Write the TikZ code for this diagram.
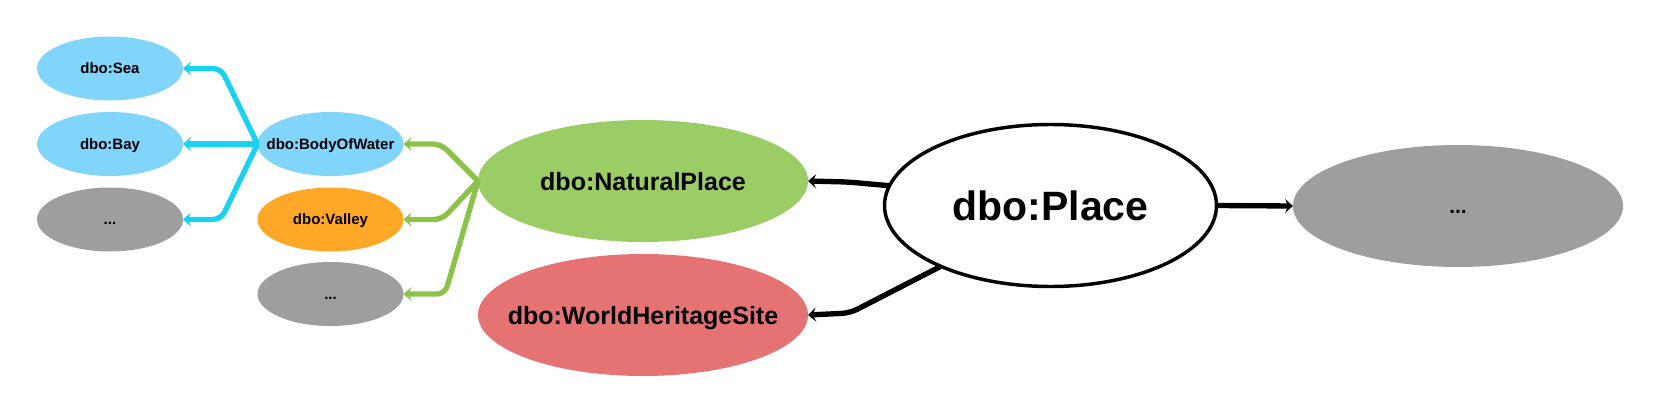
\documentclass[tikz,border=0pt]{standalone}
\usepackage{fontspec}
\setmainfont{Liberation Sans}
\usetikzlibrary{arrows.meta,shapes.geometric}
\definecolor{lblue}{HTML}{81D4FA}
\definecolor{cyanline}{HTML}{18D2F0}
\definecolor{orangefill}{HTML}{FFA726}
\definecolor{grayfill}{HTML}{9E9E9E}
\definecolor{greenfill}{HTML}{9CCC65}
\definecolor{greenline}{HTML}{8BC34A}
\definecolor{redfill}{HTML}{E57373}
\newcommand{\lbl}[1]{\makebox[0pt][c]{#1}}
\begin{document}
\begin{tikzpicture}[x=0.75pt,y=-0.75pt,
  ell/.style={ellipse, inner sep=0pt, outer sep=0pt, text depth=0pt},
  smallell/.style={ell, minimum width=109.5pt, minimum height=48pt, text height=8.1pt,
    font=\fontsize{11.25pt}{13pt}\selectfont\bfseries},
  bigell/.style={ell, minimum width=247.5pt, minimum height=91.5pt, text height=13.5pt,
    font=\fontsize{18.75pt}{22pt}\selectfont\bfseries},
  conn/.style={line width=4pt, rounded corners=6pt, line join=round,
    -{Stealth[length=6pt,width=10.5pt,inset=2.5pt]}},
  blueconn/.style={conn, draw=cyanline},
  greenconn/.style={conn, draw=greenline},
  blackconn/.style={conn, draw=black}
]
\useasboundingbox (0,0) rectangle (1661,414);

% left column
\node[smallell, fill=lblue] (sea) at (110,68.5) {\lbl{dbo:Sea}};
\node[smallell, fill=lblue] (bay) at (110,144) {\lbl{dbo:Bay}};
\node[smallell, fill=grayfill] (ldots) at (110,219.5) {\lbl{...}};

% second column
\node[smallell, fill=lblue] (bow) at (330.5,144) {\lbl{dbo:BodyOfWater}};
\node[smallell, fill=orangefill] (valley) at (330.5,219.5) {\lbl{dbo:Valley}};
\node[smallell, fill=grayfill] (mdots) at (330.5,294) {\lbl{...}};

% third column
\node[bigell, fill=greenfill] (np) at (643,181) {\lbl{dbo:NaturalPlace}};
\node[bigell, fill=redfill] (whs) at (643,315) {\lbl{dbo:WorldHeritageSite}};

% center
\node[ell, draw=black, line width=2.6pt, fill=white, minimum width=249pt, minimum height=121.5pt,
  text height=22.1pt, font=\fontsize{30.75pt}{34pt}\selectfont\bfseries] (place) at (1050.5,205.5) {\lbl{dbo:Place}};

% right
\node[bigell, fill=grayfill, text height=11.3pt, font=\fontsize{15.75pt}{18pt}\selectfont\bfseries] (rdots) at (1458,206) {\lbl{...}};

% blue connectors
\draw[blueconn] (bow.west) -- (221,68.5) -- (sea.east);
\draw[blueconn] (bow.west) -- (bay.east);
\draw[blueconn] (bow.west) -- (221,219.5) -- (ldots.east);

% green connectors
\draw[greenconn] (np.west) -- (441,144) -- (bow.east);
\draw[greenconn] (np.west) -- (442,219.5) -- (valley.east);
\draw[greenconn] (np.west) -- (445,294) -- (mdots.east);

% black connectors
\draw[blackconn] (place.173) -- (848,182) -- (np.east);
\draw[blackconn] (place.209) -- (850,313) -- (whs.east);
\draw[blackconn] (place.east) -- (rdots.west);
\end{tikzpicture}
\end{document}
